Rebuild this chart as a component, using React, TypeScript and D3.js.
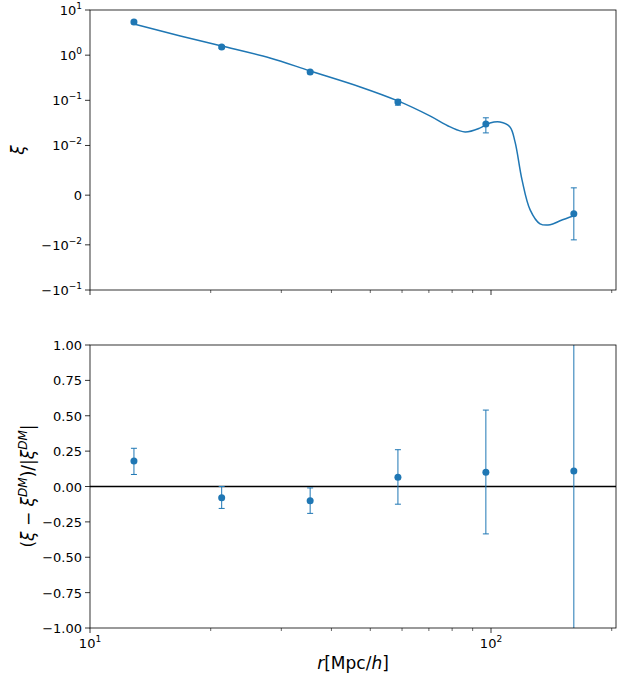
import * as d3 from "d3";

const rPts = [12.87, 21.3, 35.4, 58.6, 97.1, 160.9];
const xiPts = [5.43, 1.51, 0.425, 0.092, 0.03, -0.00375];
const xiLo = [5.0, 1.4, 0.39, 0.078, 0.019, -0.009];
const xiHi = [5.9, 1.62, 0.46, 0.104, 0.041, 0.00147];
const rCurve = [12.87, 16.8, 21.3, 28.1, 35.4, 47.2, 58.6, 70.4, 79.1, 86.2, 94.0, 99.4, 105.3, 111.5, 114.8, 119.5, 125.2, 132.5, 140.4, 148.7, 161];
const xiCurve = [4.9, 2.66, 1.6, 0.867, 0.447, 0.198, 0.097, 0.0452, 0.0258, 0.02, 0.0245, 0.0316, 0.0333, 0.0258, 0.012, 0.00308, -0.00295, -0.00576, -0.00597, -0.00516, -0.00416];
const relPts = [0.18, -0.08, -0.1, 0.065, 0.1, 0.11];
const relHi = [0.27, 0.0, -0.01, 0.26, 0.54, 1.3];
const relLo = [0.085, -0.155, -0.19, -0.125, -0.335, -1.1];
const symTicks = [10, 1, 0.1, 0.01, 0, -0.01, -0.1];
const symLabels = [["10", "1"], ["10", "0"], ["10", "\u22121"], ["10", "\u22122"], ["0", ""], ["\u221210", "\u22122"], ["\u221210", "\u22121"]];
const relTicks = [1, 0.75, 0.5, 0.25, 0, -0.25, -0.5, -0.75, -1];

const C = "#1f77b4";
const L = 1.1;
const symF = (v: number) => {
  const a = Math.abs(v);
  if (a <= 0.01) return (v / 0.01) * L;
  return Math.sign(v) * (Math.log10(a / 0.01) + L);
};

export default function App() {
  const left = 90, right = 616;
  const x = d3.scaleLog().domain([10, Math.pow(10, 1 + (right - left) / 401)]).range([left, right]);
  const yTop = d3.scaleLinear().domain([symF(-0.1), symF(10)]).range([290, 10]);
  const ys = (v: number) => yTop(symF(v));
  const yBot = d3.scaleLinear().domain([-1, 1]).range([628, 345]);
  const line = d3.line<number>().x((_, i) => x(rCurve[i])).y((_, i) => ys(xiCurve[i])).curve(d3.curveCatmullRom);
  const minor = [20, 30, 40, 50, 60, 70, 80, 90, 200];
  const font = "DejaVu Sans";
  const xTicks = (y0: number, labels: boolean) => (
    <g>
      {[10, 100].map((t) => (
        <g key={t}>
          <line x1={x(t)} x2={x(t)} y1={y0} y2={y0 + 5} stroke="#000" strokeWidth={0.8} />
          {labels && (
            <text x={x(t)} y={y0 + 20} textAnchor="middle" fontSize={13}>
              10<tspan dy={-6} fontSize={9}>{t === 10 ? "1" : "2"}</tspan>
            </text>
          )}
        </g>
      ))}
      {minor.map((t) => (
        <line key={t} x1={x(t)} x2={x(t)} y1={y0} y2={y0 + 3} stroke="#000" strokeWidth={0.6} />
      ))}
    </g>
  );
  return (
    <svg width={617} height={677} style={{ position: "absolute", left: 0, top: 0 }} fontFamily={font}>
      <rect width={617} height={677} fill="#fff" />
      <clipPath id="c1"><rect x={left} y={10} width={right - left} height={280} /></clipPath>
      <clipPath id="c2"><rect x={left} y={345} width={right - left} height={283} /></clipPath>
      {/* top panel */}
      <g clipPath="url(#c1)">
        <path d={line(rCurve) ?? ""} fill="none" stroke={C} strokeWidth={1.5} />
        {rPts.map((r, i) => (
          <g key={i}>
            <line x1={x(r)} x2={x(r)} y1={ys(xiLo[i])} y2={ys(xiHi[i])} stroke={C} strokeWidth={1} />
            <line x1={x(r) - 3} x2={x(r) + 3} y1={ys(xiLo[i])} y2={ys(xiLo[i])} stroke={C} />
            <line x1={x(r) - 3} x2={x(r) + 3} y1={ys(xiHi[i])} y2={ys(xiHi[i])} stroke={C} />
            <circle cx={x(r)} cy={ys(xiPts[i])} r={3.5} fill={C} />
          </g>
        ))}
      </g>
      <rect x={left} y={10} width={right - left} height={280} fill="none" stroke="#000" strokeWidth={0.8} />
      {symTicks.map((t, i) => (
        <g key={i}>
          <line x1={left - 5} x2={left} y1={ys(t)} y2={ys(t)} stroke="#000" strokeWidth={0.8} />
          <text x={left - 8} y={ys(t) + 5} textAnchor="end" fontSize={13}>
            {symLabels[i][0]}
            {symLabels[i][1] && <tspan dy={-6} fontSize={9}>{symLabels[i][1]}</tspan>}
          </text>
        </g>
      ))}
      {xTicks(290, false)}
      <text transform="translate(24,150) rotate(-90)" textAnchor="middle" fontSize={17} fontStyle="italic">ξ</text>
      {/* bottom panel */}
      <g clipPath="url(#c2)">
        <line x1={left} x2={right} y1={yBot(0)} y2={yBot(0)} stroke="#000" strokeWidth={1.5} />
        {rPts.map((r, i) => (
          <g key={i}>
            <line x1={x(r)} x2={x(r)} y1={yBot(relLo[i])} y2={yBot(relHi[i])} stroke={C} strokeWidth={1} />
            <line x1={x(r) - 3} x2={x(r) + 3} y1={yBot(relLo[i])} y2={yBot(relLo[i])} stroke={C} />
            <line x1={x(r) - 3} x2={x(r) + 3} y1={yBot(relHi[i])} y2={yBot(relHi[i])} stroke={C} />
            <circle cx={x(r)} cy={yBot(relPts[i])} r={3.5} fill={C} />
          </g>
        ))}
      </g>
      <rect x={left} y={345} width={right - left} height={283} fill="none" stroke="#000" strokeWidth={0.8} />
      {relTicks.map((t) => (
        <g key={t}>
          <line x1={left - 5} x2={left} y1={yBot(t)} y2={yBot(t)} stroke="#000" strokeWidth={0.8} />
          <text x={left - 8} y={yBot(t) + 5} textAnchor="end" fontSize={13}>{d3.format(".2f")(t).replace("-", "\u2212")}</text>
        </g>
      ))}
      {xTicks(628, true)}
      <text transform="translate(34,486) rotate(-90)" textAnchor="middle" fontSize={17}>
        (<tspan fontStyle="italic">ξ</tspan> − <tspan fontStyle="italic">ξ</tspan><tspan dy={-7} fontSize={12} fontStyle="italic">DM</tspan><tspan dy={7}>)/|</tspan><tspan fontStyle="italic">ξ</tspan><tspan dy={-7} fontSize={12} fontStyle="italic">DM</tspan><tspan dy={7}>|</tspan>
      </text>
      <text x={353} y={669} textAnchor="middle" fontSize={17}>
        <tspan fontStyle="italic">r</tspan>[Mpc/<tspan fontStyle="italic">h</tspan>]
      </text>
    </svg>
  );
}
